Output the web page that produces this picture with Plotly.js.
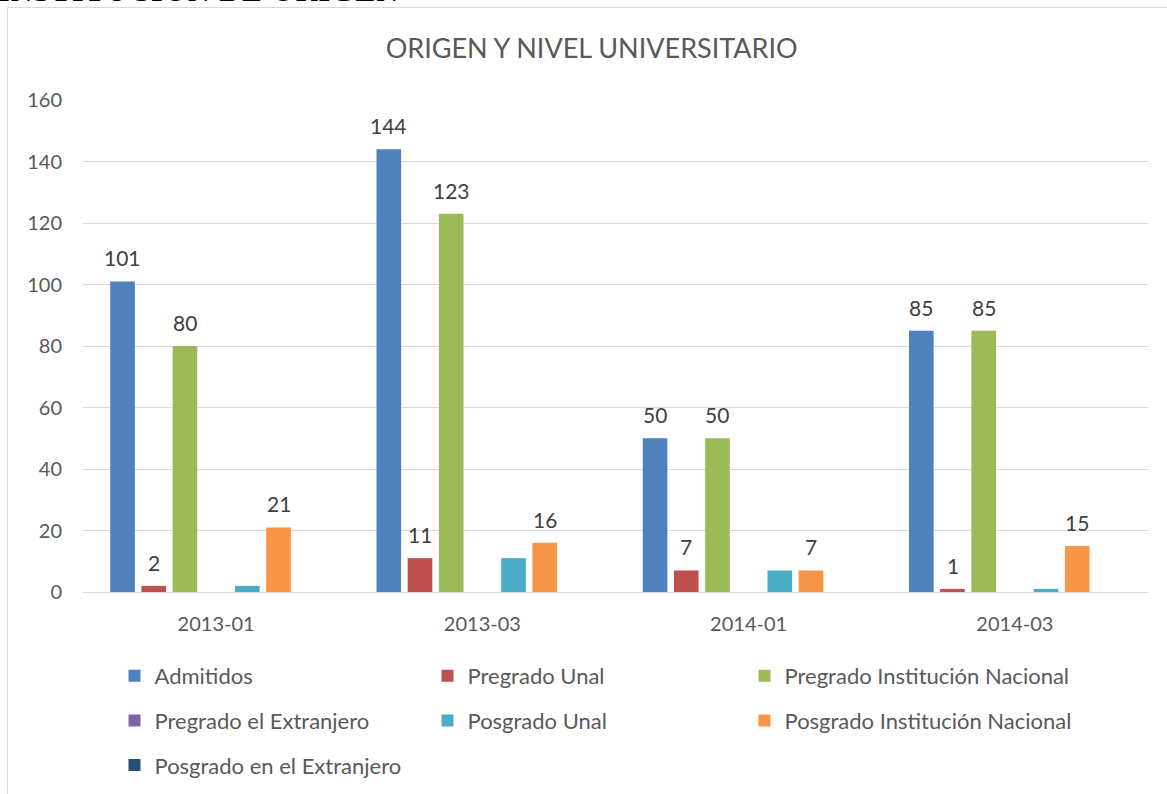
<!DOCTYPE html>
<html>
<head>
<meta charset="utf-8">
<script src="https://cdn.plot.ly/plotly-3.0.1.min.js"></script>
<style>
  html, body { margin: 0; padding: 0; background: #ffffff; overflow: hidden; }
  #chart { position: absolute; left: 0; top: 0; width: 1167px; height: 794px; }
  #frame { position: absolute; left: 7px; top: 7px; width: 1200px; height: 900px; border: 1px solid #d9d9d9; pointer-events: none; }
  #head { position: absolute; left: -2px; top: -24px; font-family: "Liberation Serif", serif; font-weight: bold; font-size: 30px; line-height: 30px; color: #000; letter-spacing: 1px; white-space: nowrap; }
</style>
</head>
<body>
<div id="head">INSTITUCIÓN DE ORIGEN</div>
<div id="chart"></div>
<div id="frame"></div>
<script>
const categories = ["2013-01", "2013-03", "2014-01", "2014-03"];
const seriesNames = [
  "Admitidos",
  "Pregrado Unal",
  "Pregrado Institución Nacional",
  "Pregrado el Extranjero",
  "Posgrado Unal",
  "Posgrado Institución Nacional",
  "Posgrado en el Extranjero"
];
const admitidos = [101, 144, 50, 85];
const pregradoUnal = [2, 11, 7, 1];
const pregradoInstNacional = [80, 123, 50, 85];
const pregradoExtranjero = [0, 0, 0, 0];
const posgradoUnal = [2, 11, 7, 1];
const posgradoInstNacional = [21, 16, 7, 15];
const posgradoExtranjero = [0, 0, 0, 0];
const seriesValues = [admitidos, pregradoUnal, pregradoInstNacional, pregradoExtranjero, posgradoUnal, posgradoInstNacional, posgradoExtranjero];
const showLabels = [true, true, true, false, false, true, false];
const colors = ["#4F81BD", "#C0504D", "#9BBB59", "#8064A2", "#4BACC6", "#F79646", "#2C4D75"];
// legend columns (Excel lays the legend out row by row in 3 columns)
const legendOf = ["legend", "legend2", "legend3", "legend", "legend2", "legend3", "legend"];

const bargap = 0.18;
const nSeries = seriesNames.length;
const slot = (1 - bargap) / nSeries;

const font = "Lato, 'Open Sans', sans-serif";

const traces = seriesNames.map((name, i) => ({
  type: "bar",
  name: name,
  legendgroup: "g" + i,
  x: categories,
  y: seriesValues[i],
  marker: { color: colors[i], line: { width: 0 } },
  legend: legendOf[i],
  hoverinfo: "x+y+name"
}));

const annotations = [];
seriesValues.forEach((vals, i) => {
  if (!showLabels[i]) return;
  vals.forEach((v, j) => {
    if (v <= 0) return;
    annotations.push({
      x: j + (i - (nSeries - 1) / 2) * slot,
      y: v,
      xref: "x", yref: "y",
      text: String(v),
      showarrow: false,
      yanchor: "bottom",
      yshift: 9,
      font: { family: font, size: 21, color: "#404040" }
    });
  });
});

const legendCommon = {
  orientation: "v",
  traceorder: "grouped",
  tracegroupgap: 13,
  font: { family: font, size: 22, color: "#595959" },
  bgcolor: "rgba(0,0,0,0)",
  xanchor: "left",
  yanchor: "top",
  y: (592 - 655) / 492,
  itemclick: false,
  itemdoubleclick: false
};

const layout = {
  width: 1167,
  height: 794,
  margin: { l: 83, r: 19, t: 100, b: 202, autoexpand: false },
  paper_bgcolor: "rgba(0,0,0,0)",
  plot_bgcolor: "rgba(0,0,0,0)",
  barmode: "group",
  bargap: bargap,
  bargroupgap: 0.21,
  title: {
    text: "ORIGEN Y NIVEL UNIVERSITARIO",
    font: { family: font, size: 27, color: "#595959" },
    x: 0.507, xanchor: "center",
    y: 1 - 49 / 794, yanchor: "middle",
    xref: "container", yref: "container"
  },
  xaxis: {
    type: "category",
    showgrid: false,
    showline: true,
    linecolor: "#d9d9d9",
    linewidth: 1,
    ticks: "",
    ticklabelstandoff: 14,
    tickfont: { family: font, size: 20, color: "#595959" },
    fixedrange: true
  },
  yaxis: {
    range: [0, 160],
    dtick: 20,
    tick0: 0,
    showgrid: true,
    gridcolor: "#d9d9d9",
    gridwidth: 1,
    zeroline: true,
    zerolinecolor: "#d9d9d9",
    zerolinewidth: 1,
    showline: false,
    ticks: "",
    ticklabelstandoff: 20,
    tickfont: { family: font, size: 20, color: "#595959" },
    fixedrange: true
  },
  legend: Object.assign({}, legendCommon, { x: (114.5 - 83) / 1065 }),
  legend2: Object.assign({}, legendCommon, { x: (427.5 - 83) / 1065 }),
  legend3: Object.assign({}, legendCommon, { x: (744.5 - 83) / 1065 }),
  annotations: annotations,
  showlegend: true
};

Plotly.newPlot("chart", traces, layout, { displayModeBar: false, staticPlot: false });
</script>
</body>
</html>
